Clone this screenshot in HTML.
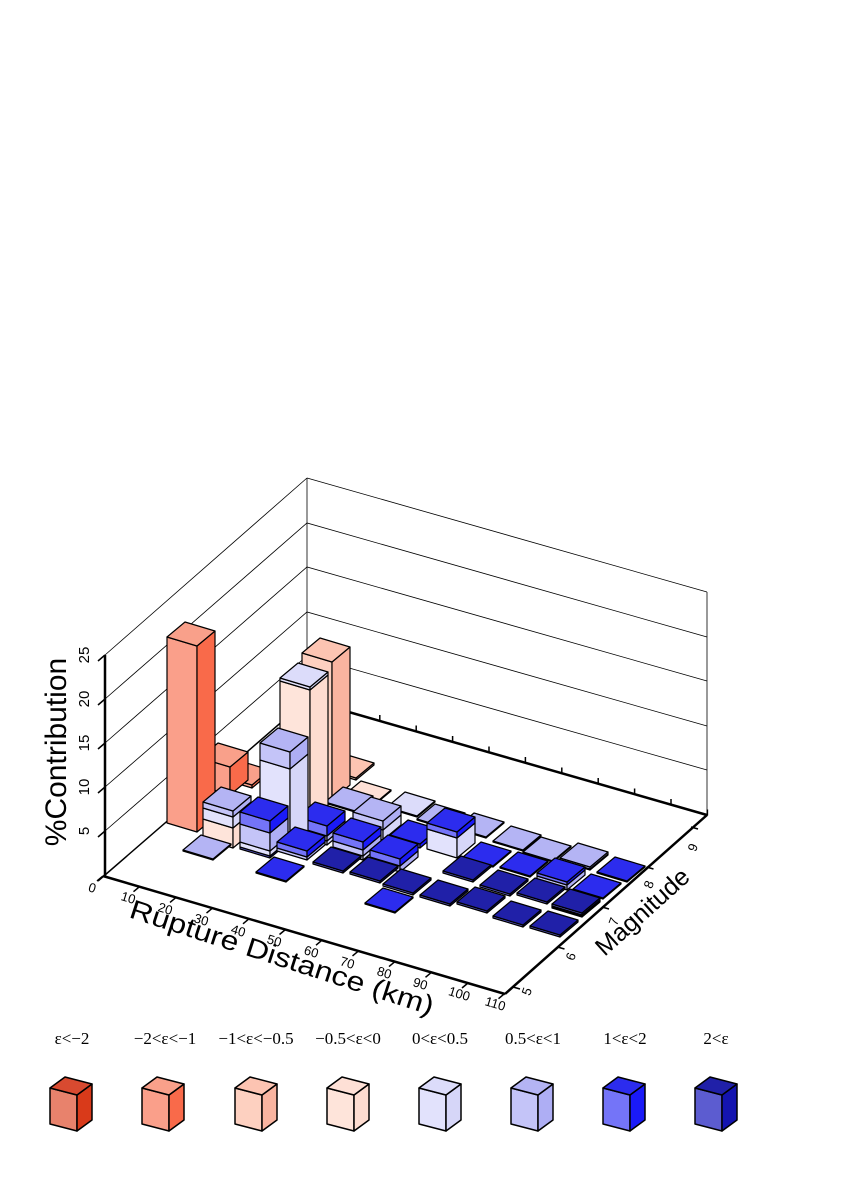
<!DOCTYPE html>
<html><head><meta charset="utf-8"><style>
html,body{margin:0;padding:0;background:#fff}
svg{display:block}
text{font-family:"Liberation Sans",sans-serif}
.leg text{font-family:"Liberation Serif",serif;font-size:17px}
</style></head><body>
<svg id="s" width="846" height="1197" viewBox="0 0 846 1197" xmlns="http://www.w3.org/2000/svg">
<g fill="none" stroke="#000" stroke-width="0.8">
<line x1="105" y1="655" x2="307" y2="478"/>
<line x1="307" y1="478" x2="707" y2="592"/>
<line x1="307" y1="478" x2="307" y2="700"/>
<line x1="707" y1="592" x2="707" y2="815"/>
<polyline points="105,831 307,656 707,770"/>
<polyline points="105,787 307,612 707,726"/>
<polyline points="105,743 307,567 707,681"/>
<polyline points="105,699 307,523 707,637"/>
</g>
<g stroke="#000" fill="none">
<line x1="105" y1="875" x2="307" y2="700" stroke-width="1.5"/>
<line x1="307" y1="700" x2="707" y2="815" stroke-width="2.5"/>
<line x1="105" y1="655" x2="105" y2="877" stroke-width="2.5"/>
<line x1="103" y1="876" x2="505" y2="994" stroke-width="2.5"/>
<line x1="505" y1="994" x2="707" y2="815" stroke-width="2.5"/>
</g>
<g id="ticks" stroke="#000" stroke-width="1.5"></g>
<g id="bars" stroke="#000" stroke-width="1.2" stroke-linejoin="round"></g>
<g font-size="15" fill="#000">
<text transform="translate(89,655) rotate(-90)" text-anchor="middle">25</text>
<text transform="translate(89,699) rotate(-90)" text-anchor="middle">20</text>
<text transform="translate(89,743) rotate(-90)" text-anchor="middle">15</text>
<text transform="translate(89,787) rotate(-90)" text-anchor="middle">10</text>
<text transform="translate(89,831) rotate(-90)" text-anchor="middle">5</text>
</g>
<text transform="translate(66,752) rotate(-90)" text-anchor="middle" font-size="30">%Contribution</text>
<g font-size="13" fill="#000" text-anchor="middle">
<text transform="translate(91,892) rotate(17)">0</text>
<text transform="translate(127,902) rotate(17)">10</text>
<text transform="translate(164,913) rotate(17)">20</text>
<text transform="translate(200,924) rotate(17)">30</text>
<text transform="translate(237,935) rotate(17)">40</text>
<text transform="translate(273,945) rotate(17)">50</text>
<text transform="translate(310,956) rotate(17)">60</text>
<text transform="translate(346,967) rotate(17)">70</text>
<text transform="translate(383,977) rotate(17)">80</text>
<text transform="translate(419,988) rotate(17)">90</text>
<text transform="translate(458,998) rotate(17)">100</text>
<text transform="translate(494,1008) rotate(17)">110</text>
</g>
<text transform="translate(128,917) rotate(18)" font-size="27" textLength="318" lengthAdjust="spacingAndGlyphs">Rupture Distance (km)</text>
<g font-size="13" fill="#000" text-anchor="middle">
<text transform="translate(531,993) rotate(-70)">5</text>
<text transform="translate(575,958) rotate(-70)">6</text>
<text transform="translate(618,923) rotate(-70)">7</text>
<text transform="translate(653,886) rotate(-70)">8</text>
<text transform="translate(697,849) rotate(-70)">9</text>
</g>
<text transform="translate(648,918) rotate(-42)" text-anchor="middle" font-size="25">Magnitude</text>
<g class="leg" text-anchor="middle" fill="#000">
<text x="72" y="1044">ε&lt;−2</text>
<text x="165" y="1044">−2&lt;ε&lt;−1</text>
<text x="256" y="1044">−1&lt;ε&lt;−0.5</text>
<text x="348" y="1044">−0.5&lt;ε&lt;0</text>
<text x="440" y="1044">0&lt;ε&lt;0.5</text>
<text x="533" y="1044">0.5&lt;ε&lt;1</text>
<text x="625" y="1044">1&lt;ε&lt;2</text>
<text x="716" y="1044">2&lt;ε</text>
</g>
<g id="legend" stroke="#000" stroke-width="1.5" stroke-linejoin="round"></g>
</svg>
<script>
var C=[
{f:'#e8826c',s:'#d93a1a',t:'#d84a30'},
{f:'#fa9f8a',s:'#f96a4a',t:'#f9a08a'},
{f:'#fdd0c0',s:'#f9b4a0',t:'#fcc4b2'},
{f:'#fee4da',s:'#fddcd0',t:'#fee0d6'},
{f:'#e2e2fc',s:'#d6d6f8',t:'#dcdcfa'},
{f:'#c4c4f8',s:'#aeaef4',t:'#b4b4f4'},
{f:'#7474f8',s:'#1a1af8',t:'#2c2cee'},
{f:'#5c5cd0',s:'#1414b0',t:'#2020a8'}];
var NS='http://www.w3.org/2000/svg';
function poly(g,pts,fill){var p=document.createElementNS(NS,'polygon');p.setAttribute('points',pts.map(function(a){return a[0].toFixed(1)+','+a[1].toFixed(1)}).join(' '));p.setAttribute('fill',fill);g.appendChild(p);}
var W=[30,9],D=[18,-15];
var B=[
[167,832,[[1,186]]],
[200,795,[[1,28]]],
[222,788,[[1,3]]],
[302,800,[[2,138]]],
[326,780,[[2,2]]],
[280,830,[[3,140],[4,3]]],
[260,854,[[4,85],[5,17]]],
[203,848,[[3,20],[4,11],[5,6]]],
[240,858,[[7,2],[4,5],[5,18],[6,12]]],
[183,860,[[5,1]]],
[277,860,[[5,3],[6,6]]],
[256,882,[[6,1]]],
[297,845,[[4,4],[5,5],[6,10]]],
[325,812,[[5,1]]],
[353,840,[[4,10],[5,9]]],
[333,860,[[4,4],[5,6],[6,8]]],
[313,873,[[7,2]]],
[350,883,[[7,2]]],
[370,872,[[5,6],[6,7]]],
[390,848,[[6,4]]],
[427,858,[[4,20],[6,6]]],
[365,913,[[6,1]]],
[343,806,[[3,1]]],
[387,817,[[4,1]]],
[417,829,[[5,1]]],
[456,838,[[5,1]]],
[493,851,[[5,1]]],
[523,862,[[5,1]]],
[560,870,[[4,1],[5,2]]],
[597,882,[[6,1]]],
[463,867,[[6,1]]],
[500,877,[[6,1]]],
[537,890,[[5,5],[6,3]]],
[573,899,[[6,1]]],
[443,882,[[7,2]]],
[480,896,[[7,2]]],
[517,904,[[7,2]]],
[552,917,[[7,1],[6,1],[7,2]]],
[383,895,[[7,2]]],
[420,906,[[7,2]]],
[457,913,[[7,2]]],
[493,927,[[7,2]]],
[530,937,[[7,2]]]
];
B.sort(function(a,b){var ka=a[0]+8*(a[1]-9),kb=b[0]+8*(b[1]-9);return ka-kb;});
var g=document.getElementById('bars');
B.forEach(function(b){
 var Lx=b[0],Ly=b[1]-9,z=0;
 b[2].forEach(function(sg){
  var c=C[sg[0]],h=sg[1],y0=Ly-z,y1=Ly-z-h;
  poly(g,[[Lx,y0],[Lx+W[0],y0+W[1]],[Lx+W[0],y1+W[1]],[Lx,y1]],c.f);
  poly(g,[[Lx+W[0],y0+W[1]],[Lx+W[0]+D[0],y0+W[1]+D[1]],[Lx+W[0]+D[0],y1+W[1]+D[1]],[Lx+W[0],y1+W[1]]],c.s);
  z+=h;
 });
 var tc=C[b[2][b[2].length-1][0]].t,ty=Ly-z;
 poly(g,[[Lx,ty],[Lx+W[0],ty+W[1]],[Lx+W[0]+D[0],ty+W[1]+D[1]],[Lx+D[0],ty+D[1]]],tc);
});
var lg=document.getElementById('legend');
[50,142,235,327,419,511,603,695].forEach(function(x,i){
 var c=C[i],y=1088;
 poly(lg,[[x,y],[x+27,y+7],[x+27,y+43],[x,y+36]],c.f);
 poly(lg,[[x+27,y+7],[x+42,y-4],[x+42,y+32],[x+27,y+43]],c.s);
 poly(lg,[[x,y],[x+15,y-11],[x+42,y-4],[x+27,y+7]],c.t);
});
var tk=document.getElementById('ticks');
function ln(x1,y1,x2,y2){var l=document.createElementNS(NS,'line');l.setAttribute('x1',x1);l.setAttribute('y1',y1);l.setAttribute('x2',x2);l.setAttribute('y2',y2);tk.appendChild(l);}
for(var i=0;i<=11;i++){var x=103+i*36.5,y=876+i*10.7;ln(x,y,x-6,y+5);}
for(var k=0;k<=5;k++){var y=875-44*k;ln(105,y,98,y+6);}
for(var m=0;m<5;m++){var x=513+m*44.5,y=987-m*40;ln(x,y,x+7,y+2);}
for(var i=1;i<=11;i++){var x=307+i*36.4,y=700+i*10.5;ln(x,y,x,y-6);}
</script>
</body></html>
